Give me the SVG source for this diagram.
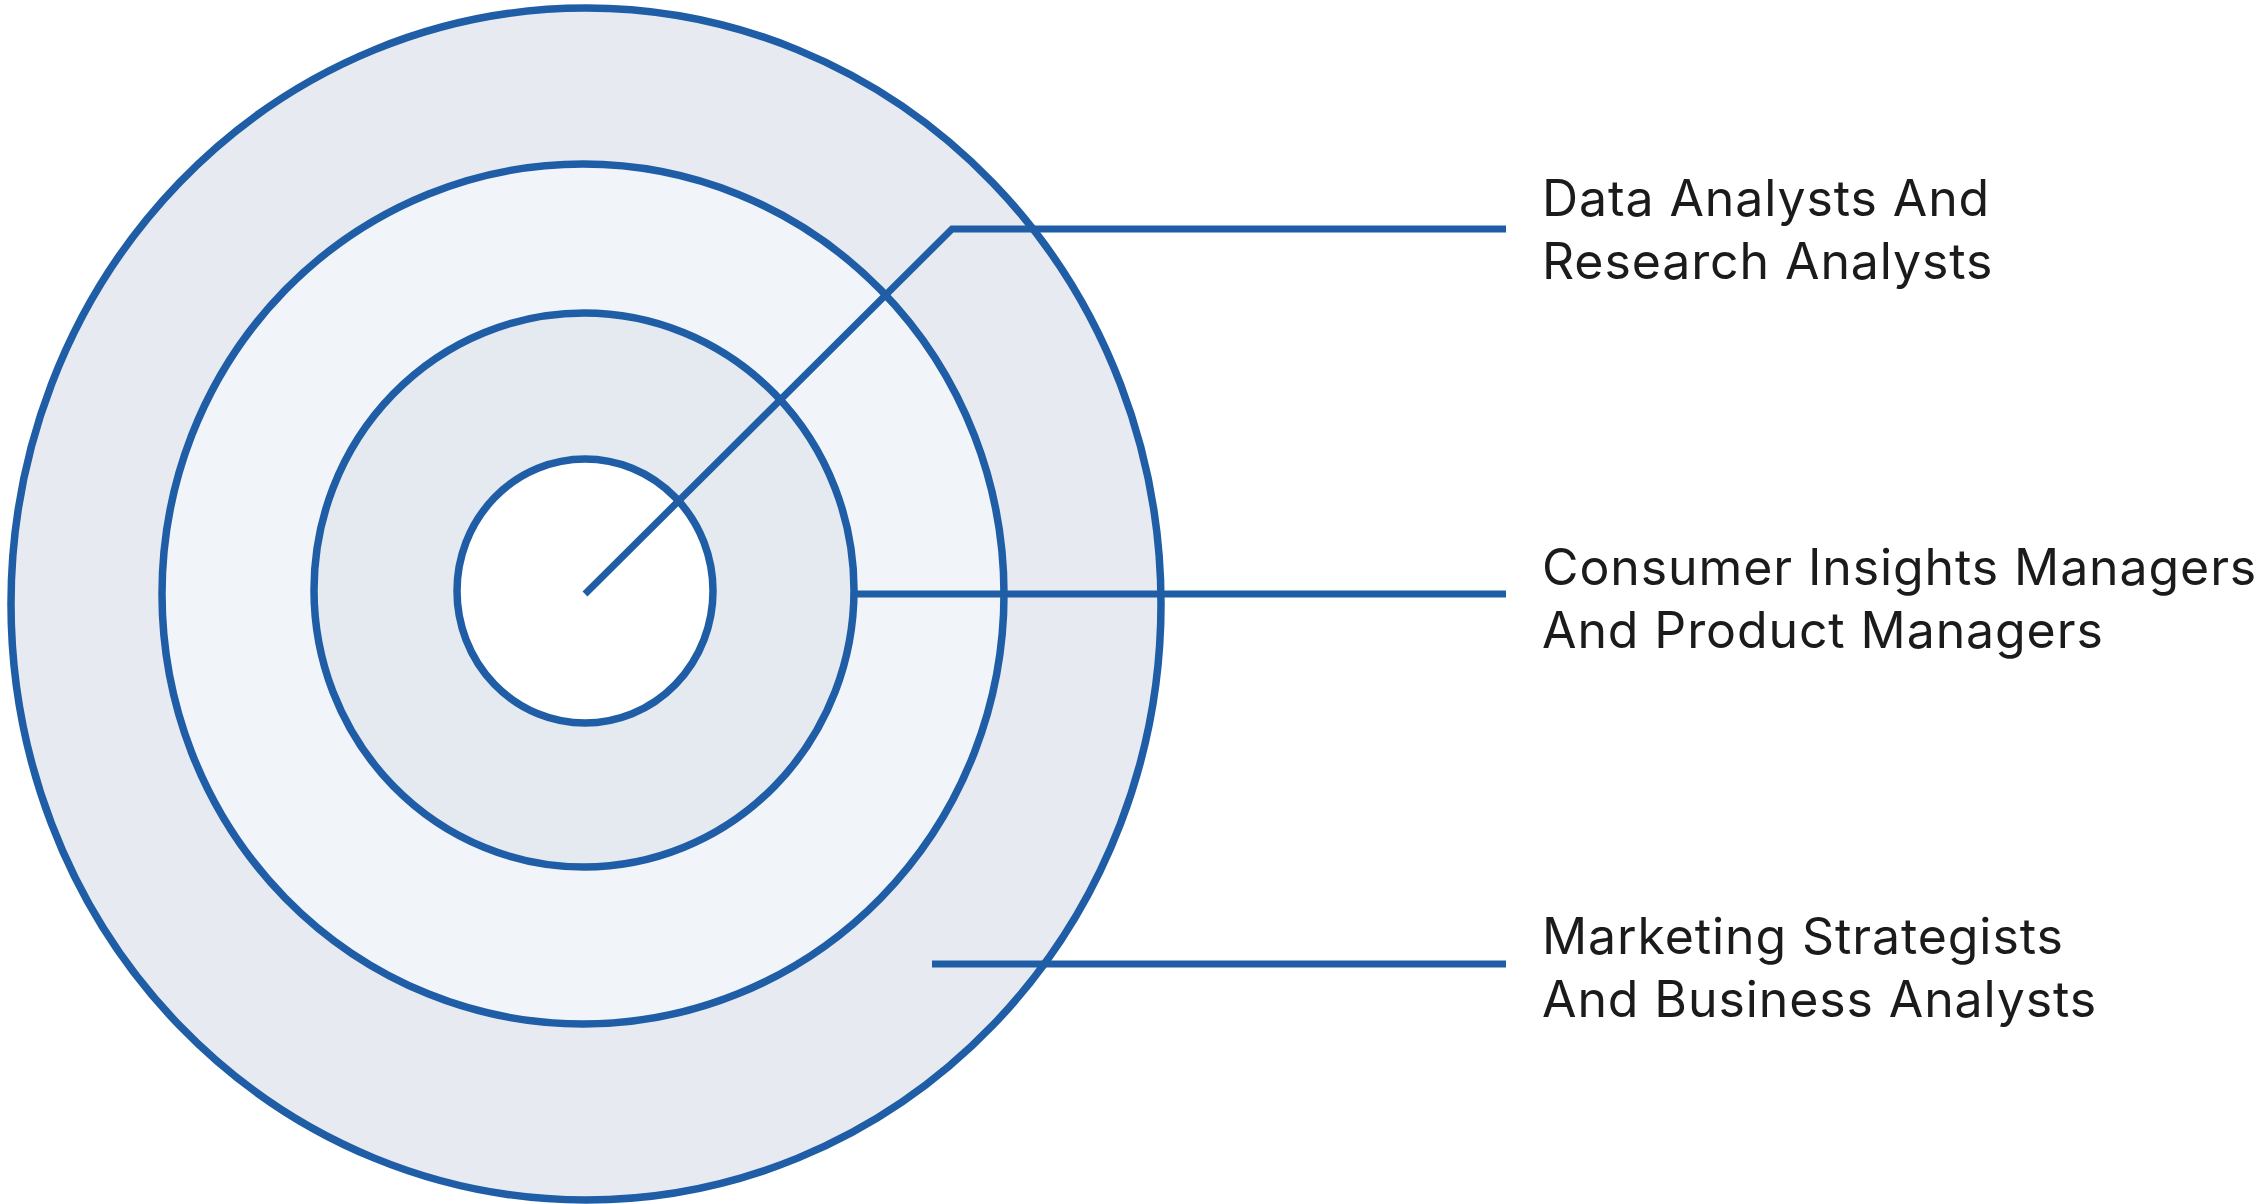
<svg xmlns="http://www.w3.org/2000/svg" width="2254" height="1204" viewBox="0 0 2254 1204">
<style>
.ring{stroke:#1f5ea6;stroke-width:7.5}
.conn{stroke:#1f5ea6;stroke-width:7;fill:none;stroke-linecap:butt;stroke-linejoin:miter}
.lbl{font-family:Inter,"Liberation Sans",sans-serif;font-size:50px;fill:#1b1b1b;letter-spacing:0.9px}
</style>
<rect width="2254" height="1204" fill="#ffffff"/>
<g id="ring-outer"><ellipse class="ring" cx="586" cy="604" rx="575" ry="596" fill="#e7ebf1"/></g>
<g id="ring-second"><ellipse class="ring" cx="583" cy="594" rx="421" ry="430" fill="#f1f5fa"/></g>
<g id="ring-third"><ellipse class="ring" cx="584" cy="590" rx="270" ry="277" fill="#e5eaf1"/></g>
<g id="ring-inner"><ellipse class="ring" cx="585" cy="591" rx="128" ry="132" fill="#ffffff"/></g>
<g id="connectors">
<path class="conn" d="M585,594 L952,229 L1506,229"/>
<path class="conn" d="M855,594 L1506,594"/>
<path class="conn" d="M932,964 L1506,964"/>
</g>
<g id="label-data">
<text class="lbl" x="1542" y="216">Data Analysts And</text>
<text class="lbl" x="1542" y="279">Research Analysts</text>
</g>
<g id="label-consumer">
<text class="lbl" x="1542" y="585">Consumer Insights Managers</text>
<text class="lbl" x="1542" y="648">And Product Managers</text>
</g>
<g id="label-marketing">
<text class="lbl" x="1542" y="954">Marketing Strategists</text>
<text class="lbl" x="1542" y="1017">And Business Analysts</text>
</g>
</svg>
